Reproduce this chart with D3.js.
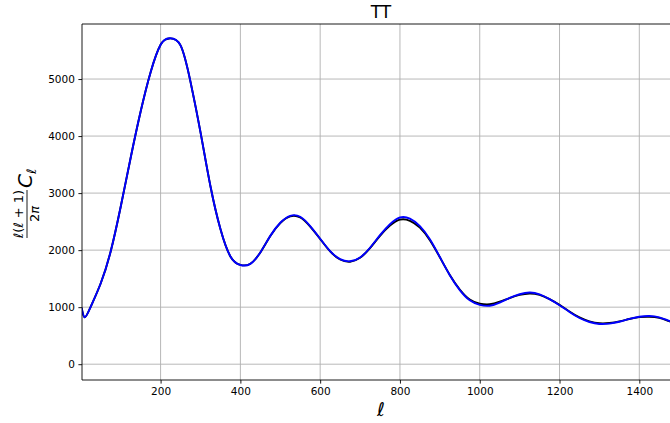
<!DOCTYPE html>
<html>
<head>
<meta charset="utf-8">
<script src="https://cdn.jsdelivr.net/npm/d3@7"></script>
<style>
  html, body { margin: 0; padding: 0; background: #fff; }
  svg { display: block; font-family: "DejaVu Sans", sans-serif; }
</style>
</head>
<body>
<svg id="ttsvg" width="670" height="423"></svg>
<script>
// multipoles and D_ell = l(l+1)C_l/2pi for the two spectra
const ells = [2, 10, 25, 50, 75, 100, 125, 150, 175, 200, 222, 250, 275, 300, 325, 350, 375, 400, 425,
  450, 475, 500, 525, 550, 575, 600, 625, 650, 675, 700, 725, 750, 775, 800, 825, 850, 875, 900, 925,
  950, 975, 1000, 1025, 1050, 1075, 1100, 1125, 1150, 1175, 1200, 1225, 1250, 1275, 1300, 1325, 1350,
  1375, 1400, 1425, 1450, 1475, 1502];
const ttBlack = [990, 822, 1010, 1420, 1980, 2760, 3620, 4430, 5120, 5600, 5712, 5590, 4950, 4070, 3120,
  2370, 1890, 1742, 1762, 1960, 2248, 2475, 2592, 2572, 2412, 2195, 1978, 1836, 1797, 1865, 2035, 2250,
  2430, 2535, 2515, 2395, 2175, 1875, 1565, 1310, 1135, 1062, 1050, 1095, 1160, 1215, 1240, 1215, 1140,
  1040, 925, 820, 752, 718, 722, 750, 792, 825, 832, 812, 755, 700];
const ttBlue = [990, 822, 1010, 1420, 1980, 2760, 3620, 4430, 5120, 5600, 5715, 5590, 4950, 4070, 3120,
  2370, 1890, 1740, 1760, 1960, 2250, 2480, 2602, 2585, 2422, 2200, 1982, 1842, 1804, 1870, 2042, 2262,
  2455, 2572, 2552, 2420, 2192, 1880, 1560, 1300, 1120, 1040, 1025, 1080, 1162, 1226, 1256, 1226, 1142,
  1035, 915, 810, 740, 706, 712, 745, 795, 833, 845, 822, 760, 700];

const xTicks = [200, 400, 600, 800, 1000, 1200, 1400];
const yTicks = [0, 1000, 2000, 3000, 4000, 5000];

const svg = d3.select('#ttsvg');

const margin = { top: 24, left: 82 };
const plotRight = 680;   // axes run past the edge of the figure
const plotBottom = 380;

const xScale = d3.scaleLinear()
  .domain([3, 1502])
  .range([margin.left, plotRight]);

const yScale = d3.scaleLinear()
  .domain([-277, 5965])
  .range([plotBottom, margin.top]);

// grid
const grid = svg.append('g').attr('class', 'grid');
grid.selectAll('.gx')
  .data(xTicks)
  .enter().append('line')
    .attr('x1', d => xScale(d)).attr('x2', d => xScale(d))
    .attr('y1', margin.top).attr('y2', plotBottom)
    .attr('stroke', '#b0b0b0').attr('stroke-width', 0.9);
grid.selectAll('.gy')
  .data(yTicks)
  .enter().append('line')
    .attr('x1', margin.left).attr('x2', plotRight)
    .attr('y1', d => yScale(d)).attr('y2', d => yScale(d))
    .attr('stroke', '#b0b0b0').attr('stroke-width', 0.9);

// spectra
const pts = arr => ells.map((l, i) => [l, arr[i]]);
const line = d3.line()
  .x(d => xScale(d[0]))
  .y(d => yScale(d[1]))
  .curve(d3.curveNatural);

svg.append('clipPath').attr('id', 'plotclip')
  .append('rect')
    .attr('x', margin.left).attr('y', margin.top)
    .attr('width', plotRight - margin.left).attr('height', plotBottom - margin.top);

const curves = svg.append('g').attr('clip-path', 'url(#plotclip)');
curves.append('path')
  .attr('d', line(pts(ttBlack)))
  .attr('fill', 'none').attr('stroke', '#000').attr('stroke-width', 1.9);
curves.append('path')
  .attr('d', line(pts(ttBlue)))
  .attr('fill', 'none').attr('stroke', '#0000ff').attr('stroke-width', 1.9);

// axes
const xAxis = d3.axisBottom(xScale).tickValues(xTicks).tickSize(3.6).tickPadding(3.5).tickFormat(d3.format('d'));
const yAxis = d3.axisLeft(yScale).tickValues(yTicks).tickSize(3.6).tickPadding(3.5).tickFormat(d3.format('d'));

const xAxisG = svg.append('g')
  .attr('transform', `translate(0, ${plotBottom})`)
  .call(xAxis);
const yAxisG = svg.append('g')
  .attr('transform', `translate(${margin.left}, 0)`)
  .call(yAxis);

[xAxisG, yAxisG].forEach(g => {
  g.select('.domain').remove();
  g.selectAll('.tick line').attr('stroke', '#000').attr('stroke-width', 0.9);
  g.selectAll('.tick text')
    .attr('fill', '#000')
    .style('font-family', '"DejaVu Sans", sans-serif')
    .style('font-size', '10.5px');
});

// spines
svg.append('line')
  .attr('x1', margin.left).attr('x2', plotRight)
  .attr('y1', margin.top).attr('y2', margin.top)
  .attr('stroke', '#000').attr('stroke-width', 0.9);
svg.append('line')
  .attr('x1', margin.left).attr('x2', plotRight)
  .attr('y1', plotBottom).attr('y2', plotBottom)
  .attr('stroke', '#000').attr('stroke-width', 0.9);
svg.append('line')
  .attr('x1', margin.left).attr('x2', margin.left)
  .attr('y1', margin.top).attr('y2', plotBottom)
  .attr('stroke', '#000').attr('stroke-width', 0.9);

const midX = (margin.left + plotRight) / 2;

// title
svg.append('text')
  .attr('x', midX).attr('y', 18)
  .attr('text-anchor', 'middle')
  .style('font-size', '17px')
  .text('TT');

// x label
svg.append('text')
  .attr('x', midX).attr('y', 416)
  .attr('text-anchor', 'middle')
  .style('font-size', '19px')
  .style('font-style', 'italic')
  .text('ℓ');

// y label: l(l+1)/2pi C_l, rotated
const yl = svg.append('g')
  .attr('transform', 'translate(27, 214) rotate(-90)');
yl.append('text')
  .attr('x', 0).attr('y', -4)
  .attr('text-anchor', 'middle')
  .style('font-size', '13px')
  .html('<tspan font-style="italic">ℓ</tspan>(<tspan font-style="italic">ℓ</tspan> + 1)');
yl.append('line')
  .attr('x1', -24).attr('x2', 24)
  .attr('y1', 0).attr('y2', 0)
  .attr('stroke', '#000').attr('stroke-width', 0.9);
yl.append('text')
  .attr('x', 0).attr('y', 12)
  .attr('text-anchor', 'middle')
  .style('font-size', '13px')
  .html('2<tspan font-style="italic">π</tspan>');
yl.append('text')
  .attr('x', 26).attr('y', 5)
  .style('font-size', '20px')
  .style('font-style', 'italic')
  .html('C<tspan font-size="13px" dy="4">ℓ</tspan>');
</script>
</body>
</html>
